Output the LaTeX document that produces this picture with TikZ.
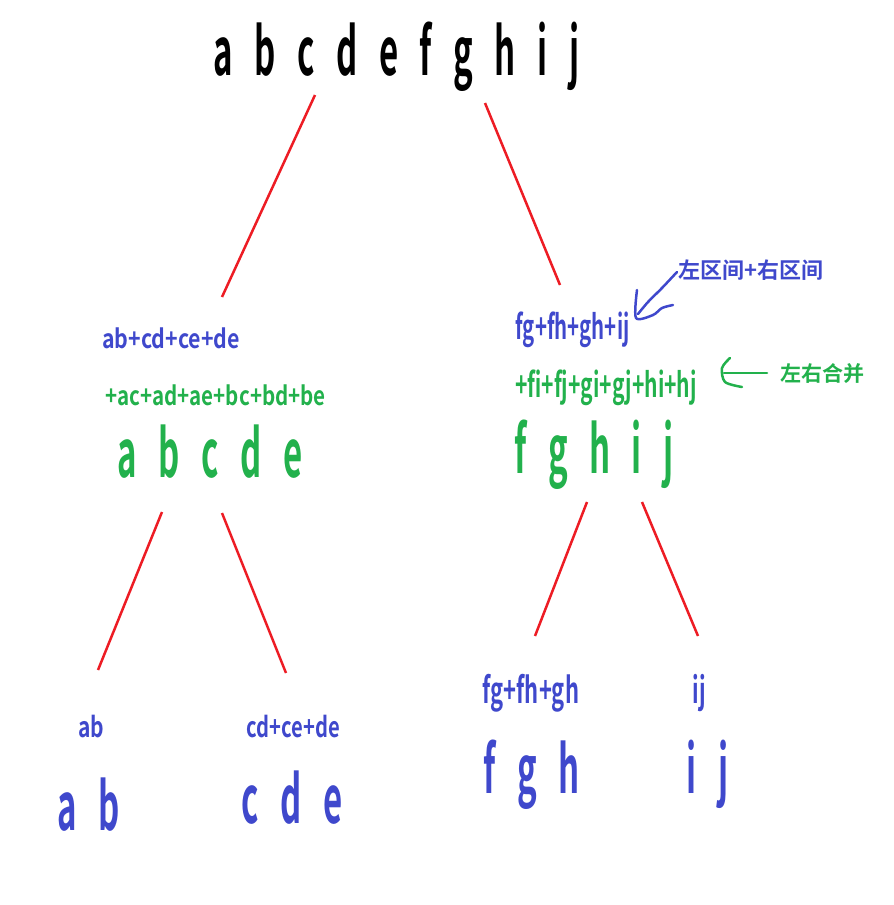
\documentclass[tikz,border=0pt]{standalone}
\usepackage{fontspec}
\setmainfont{Noto Sans CJK SC Bold}
\newfontfamily\slimfont{Noto Sans CJK SC Bold}[FakeStretch=0.5]
\definecolor{segred}{RGB}{237,28,36}
\definecolor{lblue}{RGB}{63,72,204}
\definecolor{mgreen}{RGB}{34,177,76}
\newcommand\gapp{\hskip 21.5pt}
\newcommand\sumfont[2]{\fontspec[FakeStretch=#2]{Noto Sans CJK SC Bold}\fontsize{#1}{#1}\selectfont}
\tikzset{
  letters/.style={font=\slimfont\fontsize{66}{66}\selectfont, anchor=base, inner sep=0pt},
  sumtxt/.style 2 args={font=\sumfont{#1}{#2}, anchor=base, inner sep=0pt},
  note/.style={font=\fontsize{#1}{#1}\selectfont, inner sep=0pt},
  seg/.style={draw=segred, line width=2.5pt},
  hand/.style={line width=2.5pt, line cap=round, line join=round}
}
\begin{document}
\begin{tikzpicture}[x=1pt,y=-1pt]
\useasboundingbox (0,0) rectangle (894,905);
% root
\node (r) [letters] at (396.5,75) {a\gapp b\gapp c\gapp d\gapp e\gapp f\gapp g\gapp h\gapp i\gapp j};
% left half
\node (ls) [sumtxt={26}{0.82}, lblue] at (171,348) {ab+cd+ce+de};
\node (lm) [sumtxt={26}{0.79}, mgreen] at (215.5,405) {+ac+ad+ae+bc+bd+be};
\node (l) [letters, mgreen] at (210,477) {a\gapp b\gapp c\gapp d\gapp e};
% right half
\node (rs) [sumtxt={34}{0.6}, lblue] at (572.5,339) {fg+fh+gh+ij};
\node (rm) [sumtxt={34}{0.62}, mgreen] at (606,397) {+fi+fj+gi+gj+hi+hj};
\node (rr) [letters, mgreen] at (594,473) {f\gapp g\gapp h\gapp i\gapp j};
% leaves
\node (lls) [sumtxt={28}{0.75}, lblue] at (91.5,737) {ab};
\node (ll) [letters, lblue] at (89,830) {a\gapp b};
\node (lrs) [sumtxt={28}{0.72}, lblue] at (293.5,737) {cd+ce+de};
\node (lr) [letters, lblue] at (292,823) {c\gapp d\gapp e};
\node (rls) [sumtxt={36}{0.61}, lblue] at (531,703) {fg+fh+gh};
\node (rl) [letters, lblue] at (531.5,793) {f\gapp g\gapp h};
\node (rrrs) [sumtxt={36}{0.6}, lblue] at (699.5,703) {ij};
\node (rrr) [letters, lblue] at (707.5,793) {i\gapp j};
% notes
\node (nb) [note=22, lblue] at (751,270) {左区间+右区间};
\node (ng) [note=21, mgreen] at (822,374) {左右合并};
% segment ends
\coordinate (r1) at (315,95);  \coordinate (l0) at (222,297);
\coordinate (r2) at (485,103); \coordinate (rr0) at (560,285);
\coordinate (l1) at (162,512); \coordinate (ll0) at (98,670);
\coordinate (l2) at (222,513); \coordinate (lr0) at (286,673);
\coordinate (rr1) at (587,502); \coordinate (rl0) at (535,636);
\coordinate (rr2) at (642,502); \coordinate (rrr0) at (698,636);
\draw[seg] (r1) -- (l0);
\draw[seg] (r2) -- (rr0);
\draw[seg] (l1) -- (ll0);
\draw[seg] (l2) -- (lr0);
\draw[seg] (rr1) -- (rl0);
\draw[seg] (rr2) -- (rrr0);
% hand arrows
\draw[hand, lblue] plot[smooth] coordinates {(677,272) (662,288) (648,302) (638,314)};
\draw[hand, lblue] plot[smooth] coordinates {(637,290) (636,318) (653,315) (662,308) (673,305)};
\draw[hand, mgreen] (767,373) -- (724,373);
\draw[hand, mgreen] plot[smooth] coordinates {(730,358) (722,368) (725,382) (742,387)};
\end{tikzpicture}
\end{document}
